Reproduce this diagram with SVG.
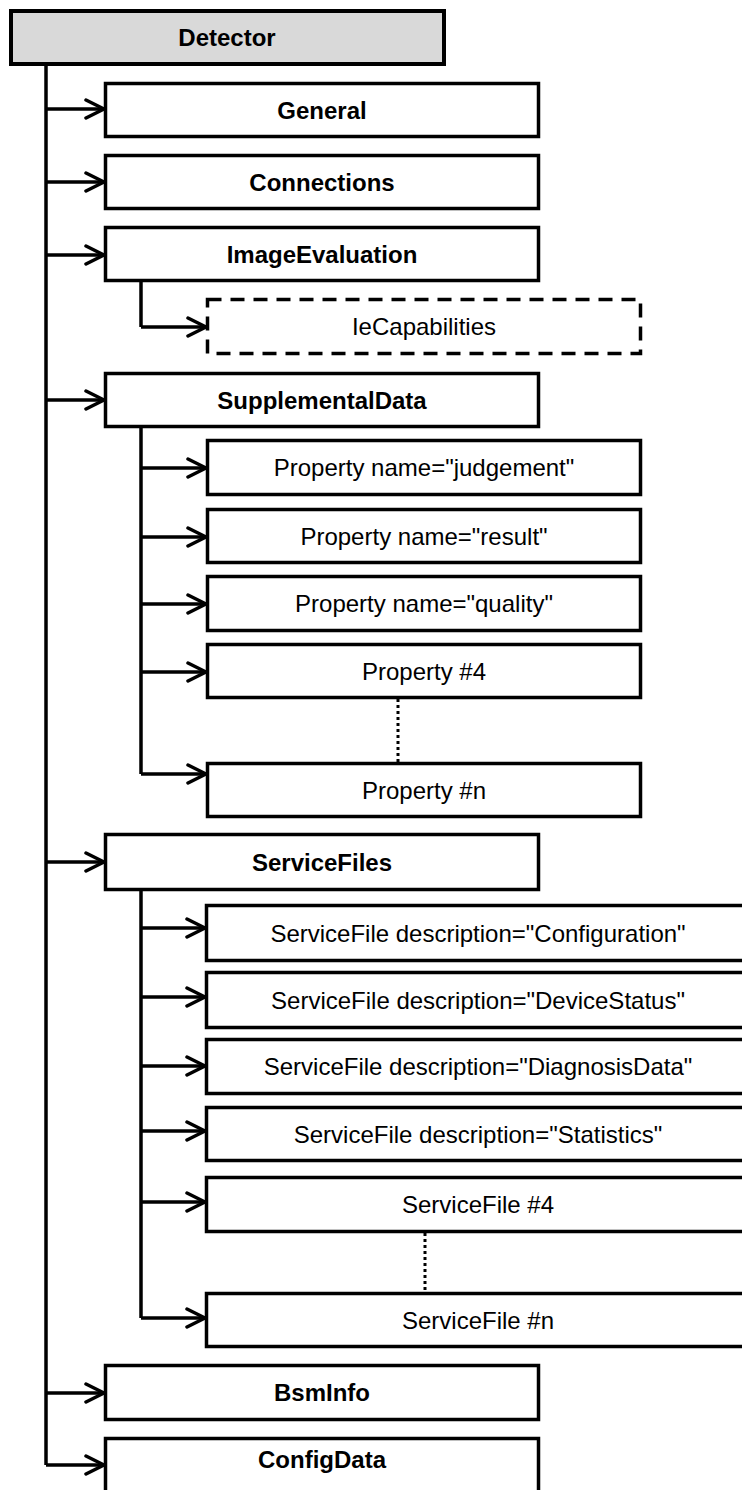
<svg xmlns="http://www.w3.org/2000/svg" width="742" height="1490" viewBox="0 0 742 1490">
<defs>
<marker id="arr" viewBox="0 0 22 22" refX="20" refY="11" markerUnits="userSpaceOnUse" markerWidth="22" markerHeight="22" orient="auto">
<path d="M2,2 L20,11 L2,20" fill="none" stroke="#000" stroke-width="3.5" stroke-linecap="round" stroke-linejoin="round"/>
</marker>
<style>
.box{fill:#fff;stroke:#000;stroke-width:3.5}
.root{fill:#d9d9d9;stroke:#000;stroke-width:4}
.dash{fill:#fff;stroke:#000;stroke-width:3.5;stroke-dasharray:14 9}
.b{font-family:"Liberation Sans",Arial,sans-serif;font-size:24px;font-weight:bold;text-anchor:middle;fill:#000}
.r{font-family:"Liberation Sans",Arial,sans-serif;font-size:24px;text-anchor:middle;fill:#000}
.c{fill:none;stroke:#000;stroke-width:3.5}
.a{fill:none;stroke:#000;stroke-width:3.5;marker-end:url(#arr)}
.dot{fill:none;stroke:#000;stroke-width:3;stroke-dasharray:3 3}
</style>
</defs>
<g id="connectors">
<path class="c" d="M46 65 V1465"/>
<path class="a" d="M46 109 H104"/>
<path class="a" d="M46 182 H104"/>
<path class="a" d="M46 255 H104"/>
<path class="a" d="M46 400 H104"/>
<path class="a" d="M46 862 H104"/>
<path class="a" d="M46 1393 H104"/>
<path class="a" d="M46 1465 H104"/>
<path class="c" d="M141 282 V327"/>
<path class="a" d="M141 327 H206"/>
<path class="c" d="M141 428 V774"/>
<path class="a" d="M141 468 H206"/>
<path class="a" d="M141 537 H206"/>
<path class="a" d="M141 604 H206"/>
<path class="a" d="M141 672 H206"/>
<path class="a" d="M141 774 H206"/>
<path class="dot" d="M398 699 V762"/>
<path class="c" d="M141 891 V1318"/>
<path class="a" d="M141 928 H205"/>
<path class="a" d="M141 997 H205"/>
<path class="a" d="M141 1066 H205"/>
<path class="a" d="M141 1131 H205"/>
<path class="a" d="M141 1202 H205"/>
<path class="a" d="M141 1318 H205"/>
<path class="dot" d="M425 1233 V1292"/>
</g>
<g id="detector"><rect class="root" x="11" y="11" width="433" height="53"/><text class="b" x="227" y="46">Detector</text></g>
<g id="general"><rect class="box" x="105.5" y="83.5" width="433" height="53"/><text class="b" x="322" y="118.6">General</text></g>
<g id="connections"><rect class="box" x="105.5" y="155.5" width="433" height="53"/><text class="b" x="322" y="190.6">Connections</text></g>
<g id="imageevaluation"><rect class="box" x="105.5" y="227.5" width="433" height="53"/><text class="b" x="322" y="262.6">ImageEvaluation</text></g>
<g id="iecapabilities"><rect class="dash" x="207.5" y="299.5" width="433" height="54"/><text class="r" x="424" y="335">IeCapabilities</text></g>
<g id="supplementaldata"><rect class="box" x="105.5" y="373.5" width="433" height="53"/><text class="b" x="322" y="408.6">SupplementalData</text></g>
<g id="prop-judgement"><rect class="box" x="207.5" y="440.5" width="433" height="54"/><text class="r" x="424" y="476">Property name="judgement"</text></g>
<g id="prop-result"><rect class="box" x="207.5" y="509.5" width="433" height="53"/><text class="r" x="424" y="544.6">Property name="result"</text></g>
<g id="prop-quality"><rect class="box" x="207.5" y="576.5" width="433" height="54"/><text class="r" x="424" y="612">Property name="quality"</text></g>
<g id="prop-4"><rect class="box" x="207.5" y="644.5" width="433" height="53"/><text class="r" x="424" y="679.6">Property #4</text></g>
<g id="prop-n"><rect class="box" x="207.5" y="763.5" width="433" height="53"/><text class="r" x="424" y="798.6">Property #n</text></g>
<g id="servicefiles"><rect class="box" x="105.5" y="834.5" width="433" height="55"/><text class="b" x="322" y="870.6">ServiceFiles</text></g>
<g id="sf-configuration"><rect class="box" x="206.5" y="905.5" width="560" height="55"/><text class="r" x="478" y="941.6">ServiceFile description="Configuration"</text></g>
<g id="sf-devicestatus"><rect class="box" x="206.5" y="972.5" width="560" height="55"/><text class="r" x="478" y="1008.6">ServiceFile description="DeviceStatus"</text></g>
<g id="sf-diagnosisdata"><rect class="box" x="206.5" y="1039.5" width="560" height="54"/><text class="r" x="478" y="1075">ServiceFile description="DiagnosisData"</text></g>
<g id="sf-statistics"><rect class="box" x="206.5" y="1107.5" width="560" height="53"/><text class="r" x="478" y="1142.6">ServiceFile description="Statistics"</text></g>
<g id="sf-4"><rect class="box" x="206.5" y="1177.5" width="560" height="54"/><text class="r" x="478" y="1213">ServiceFile #4</text></g>
<g id="sf-n"><rect class="box" x="206.5" y="1293.5" width="560" height="53"/><text class="r" x="478" y="1328.6">ServiceFile #n</text></g>
<g id="bsminfo"><rect class="box" x="105.5" y="1365.5" width="433" height="54"/><text class="b" x="322" y="1401">BsmInfo</text></g>
<g id="configdata"><rect class="box" x="105.5" y="1438.5" width="433" height="70"/><text class="b" x="322" y="1468">ConfigData</text></g>
</svg>
